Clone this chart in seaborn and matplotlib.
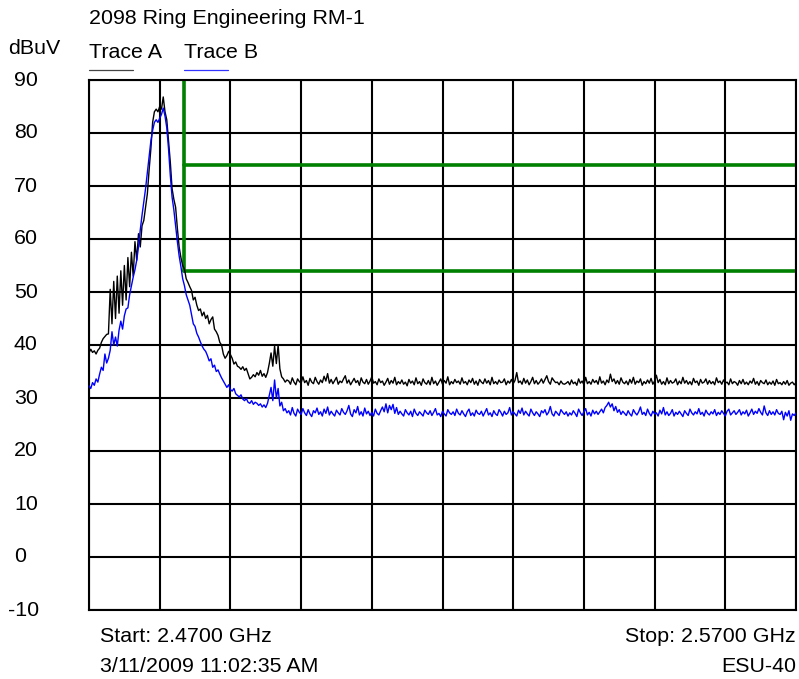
import matplotlib
matplotlib.use("Agg")
import matplotlib.pyplot as plt
import matplotlib.transforms as mtransforms
import numpy as np
import seaborn as sns

# spectrum analyzer sweep, 401 points from start to stop
start_ghz = 2.47
stop_ghz = 2.57

# Trace A (black), dBuV
trace_a_peak = [
    38.5, 39.2, 38.6, 38.9, 38.3, 39.0, 39.4, 40.5, 41.2, 41.6, 42.0, 42.1,
    50.5, 44.0, 52.0, 45.0, 53.0, 46.0, 54.0, 47.5, 55.0, 48.5, 56.5, 51.0,
    57.5, 53.0, 59.5, 56.0, 61.0, 58.5, 62.5, 63.5, 66.0, 68.5, 73.0, 77.0,
    82.0, 84.0, 84.5, 84.0, 85.0, 84.5, 86.8, 84.0, 82.5, 78.5, 74.5, 69.5,
    67.5, 66.0, 62.0, 58.5, 56.5, 55.0, 54.3, 52.5, 51.8, 51.0, 50.3, 48.5,
    49.0, 47.5, 46.5, 46.8, 45.5, 46.2, 45.0, 45.6, 44.0, 44.8, 45.3, 43.0,
    42.5, 41.8, 40.5, 40.0, 38.3, 37.5, 38.0, 38.8, 38.2, 37.5, 36.4, 36.8,
    36.0, 35.8, 35.4, 35.9, 35.2, 35.6, 34.6, 33.6, 33.9, 34.4, 34.0, 34.8,
    34.3, 35.2, 34.1, 34.6, 33.9, 34.8, 36.5, 38.5, 36.0, 39.8, 36.5, 40.0,
    35.5, 34.0, 33.6, 33.0, 33.4,
]
trace_a_floor = [
    33.2, 32.6, 33.8, 33.0, 32.5, 33.6, 33.1, 32.8, 34.0, 32.9, 33.3, 32.4, 33.7, 33.0, 32.7, 33.9,
    33.1, 32.6, 33.4, 32.9, 34.1, 33.2, 34.6, 32.8, 33.5, 32.7, 33.3, 33.9, 32.6, 33.2, 32.9, 33.6,
    34.2, 32.8, 33.4, 32.5, 33.1, 33.7, 32.9, 33.3, 32.4, 33.8, 33.0, 32.7, 33.5, 32.6, 33.2, 34.0,
    32.8, 33.1, 32.5, 33.6, 32.9, 33.2, 32.4, 33.0, 33.7, 32.6, 33.3, 32.8, 33.9, 32.5, 33.1, 32.7,
    33.4, 32.6, 33.0, 32.3, 33.5, 32.8, 33.2, 32.5, 33.8, 32.7, 33.1, 32.4, 33.6, 32.9, 32.6, 33.3,
    32.5, 33.9, 32.7, 33.2, 32.4, 33.0, 33.6, 32.6, 33.3, 32.8, 34.0, 32.5, 33.1, 32.7, 33.5, 32.9,
    33.2, 32.6, 33.8, 32.8, 33.1, 32.5, 33.4, 32.9, 33.7, 32.6, 33.2, 32.4, 33.5, 33.0, 32.7, 33.6,
    32.8, 33.3, 32.5, 33.9, 32.7, 33.1, 32.6, 33.4, 32.9, 33.0, 33.6, 32.5, 33.2, 32.8, 33.5, 32.7,
    33.3, 34.8, 32.9, 33.2, 32.6, 33.7, 32.8, 33.4, 32.5, 33.1, 33.9, 32.7, 33.3, 32.6, 33.0, 33.6,
    32.8, 33.5, 34.2, 33.1, 32.6, 33.8, 33.3, 32.9, 33.0, 32.5, 33.2, 32.7, 32.6, 32.8, 33.1, 32.5,
    33.4, 32.7, 33.0, 32.4, 33.6, 32.8, 33.2, 32.5, 33.9, 32.7, 33.1, 32.6, 33.5, 32.9, 33.3, 32.6,
    34.0, 32.8, 33.2, 32.5, 33.4, 32.9, 34.5, 33.1, 33.6, 32.7, 33.3, 32.6, 33.8, 33.0, 32.7, 33.2,
    32.5, 33.5, 32.8, 33.9, 32.6, 33.2, 32.9, 33.6, 32.4, 33.1, 32.7, 33.4, 32.8, 33.7, 32.6, 33.2,
    34.3, 32.9, 33.5, 32.6, 33.1, 32.5, 33.8, 32.7, 33.3, 32.8, 33.0, 33.6, 32.5, 33.2, 32.7, 33.9,
    32.8, 33.3, 32.6, 33.1, 32.5, 33.7, 32.9, 33.2, 32.4, 33.5, 32.8, 33.0, 33.6, 32.6, 33.3, 32.7,
    33.1, 32.5, 33.8, 32.9, 33.2, 32.6, 33.4, 32.8, 33.0, 32.5, 33.6, 32.7, 33.1, 32.9, 32.4, 33.3,
    32.7, 33.5, 32.6, 33.0, 32.5, 33.2, 32.8, 33.7, 32.6, 33.1, 32.4, 33.3, 32.9, 32.7, 33.4, 32.5,
    33.0, 32.6, 33.2, 32.4, 33.5, 32.7, 32.9, 32.5, 33.1, 32.6, 33.3, 32.4, 32.8, 33.0, 32.5, 32.9,
]

# Trace B (blue), dBuV
trace_b_peak = [
    32.3, 31.8, 32.9, 32.4, 33.6, 33.0, 34.5, 35.8, 35.2, 38.3, 36.6, 37.5,
    39.0, 42.5, 40.0, 41.5, 39.8, 42.8, 44.5, 43.0, 45.5, 46.8, 47.0, 49.5,
    51.2, 52.8, 54.2, 56.0, 58.5, 61.7, 64.5, 67.0, 69.5, 72.5, 75.5, 78.5,
    80.5, 82.0, 82.5, 82.0, 82.8, 83.5, 84.7, 83.2, 81.0, 77.0, 72.0, 67.9,
    65.5, 62.5, 59.5, 56.8, 54.8, 52.5, 51.2, 49.5, 48.5, 47.5, 45.8, 44.0,
    43.5, 42.2, 41.5, 40.6, 39.8, 39.2, 38.8, 38.0, 37.0, 37.4, 35.8, 36.2,
    35.0, 35.3, 34.5, 33.8, 33.2, 32.6, 32.0, 32.5, 31.6, 31.3, 31.8, 30.8,
    30.5, 30.2, 30.6, 29.8, 29.5, 29.9, 29.2, 29.0, 29.5, 28.8, 29.2, 29.0,
    28.6, 28.9, 28.3, 28.7, 28.2, 29.0, 30.5, 32.0, 29.5, 33.4, 30.0, 31.8,
    28.5, 29.2, 27.6, 28.0, 27.2,
]
trace_b_floor = [
    27.6, 26.8, 28.2, 27.1, 26.6, 27.9, 27.3, 26.9, 28.0, 27.2, 26.7, 27.8, 27.0, 26.5, 27.6, 27.2,
    28.1, 26.9, 27.4, 26.6, 27.9, 27.1, 28.3, 26.8, 27.5, 27.0, 26.6, 27.7, 27.2, 26.8, 28.0, 27.3,
    26.9, 27.6, 28.6, 27.0, 26.5, 27.8, 27.2, 28.4, 26.8, 27.4, 26.6, 28.1, 27.0, 27.5, 26.7, 27.3,
    26.6, 27.9, 27.1, 26.8, 27.6, 28.3, 27.4, 28.9, 27.2, 28.6, 27.8, 28.8, 27.1, 28.2, 26.9, 27.5,
    27.0, 26.6, 27.8, 27.2, 26.8, 27.5, 26.5, 27.9, 27.1, 26.7, 27.4, 27.0, 26.6, 27.7, 27.2, 26.9,
    27.6, 26.7, 27.3, 28.0, 26.8, 27.1, 26.5, 27.5, 27.0, 26.6, 27.8, 27.2, 26.9, 27.4, 26.7, 27.9,
    27.1, 26.8, 27.6, 27.0, 26.5, 27.4, 27.9, 26.7, 27.2, 26.6, 27.7, 27.1, 26.9, 27.5, 26.6, 27.3,
    28.0, 26.8, 27.2, 26.5, 27.6, 27.0, 26.7, 27.8, 27.3, 26.6, 27.5, 26.9, 27.2, 28.2, 26.8, 27.4,
    27.0, 26.6, 27.7, 27.1, 28.1, 26.8, 27.5, 27.0, 26.6, 27.9, 27.2, 26.7, 27.4, 27.0, 26.5, 27.6,
    27.2, 27.8, 26.8, 27.3, 28.4, 27.0, 26.6, 27.5, 27.1, 26.7, 27.8, 27.3, 26.9, 27.4, 26.6, 27.2,
    26.8, 27.6, 27.1, 26.5, 27.9, 27.2, 26.7, 27.4, 28.0, 26.8, 27.3, 26.6, 27.7, 27.0, 27.5, 26.9,
    27.4, 27.9, 27.2, 28.2, 28.6, 29.2, 28.3, 28.9, 27.6, 28.4, 27.3, 27.8, 26.9, 27.5, 27.1, 26.7,
    27.6, 27.0, 26.6, 27.8, 27.2, 26.8, 27.4, 28.3, 26.9, 27.3, 26.7, 27.9, 27.1, 26.6, 27.5, 27.0,
    27.2, 26.6, 27.7, 27.0, 28.2, 26.8, 27.4, 26.7, 27.1, 27.8, 26.6, 27.3, 26.9, 27.5, 27.0, 26.5,
    27.6, 27.1, 26.7, 27.9, 27.2, 26.8, 27.4, 27.0, 28.0, 26.9, 27.3, 26.6, 27.7, 27.1, 26.8, 27.4,
    27.0, 27.8, 26.7, 27.3, 26.9, 27.6, 27.1, 26.6, 27.5, 27.9, 26.8, 27.2, 27.6, 26.9, 27.3, 27.8,
    26.8, 27.4, 27.0, 27.7, 26.6, 27.2, 27.9, 26.9, 27.5, 27.1, 28.0, 27.3, 26.8, 28.5, 27.2, 26.7,
    27.6, 26.9, 27.4, 26.8, 27.8, 27.1, 26.9, 27.5, 25.9, 27.3, 26.6, 27.6, 25.8, 27.0, 26.7, 27.2,
]

# limit mask (green)
limit_freq = 2.4834
limit_upper = 74
limit_lower = 54
y_ticks = [90, 80, 70, 60, 50, 40, 30, 20, 10, 0, -10]

trace_a = np.array(trace_a_peak + trace_a_floor)
trace_b = np.array(trace_b_peak + trace_b_floor)
freq_a = np.linspace(start_ghz, stop_ghz, len(trace_a))
freq_b = np.linspace(start_ghz, stop_ghz, len(trace_b))

sns.set_style("white")
plt.rcParams['font.family'] = ['Liberation Sans', 'DejaVu Sans']
plt.rcParams['text.color'] = 'black'

fig = plt.figure(figsize=(7.99, 6.79), dpi=100)
W, H = 799, 679
ax = fig.add_axes([89 / W, (H - 610) / H, 707 / W, 530 / H])

ax.set_xlim(start_ghz, stop_ghz)
ax.set_ylim(-10, 90)
ax.set_xticks(np.linspace(start_ghz, stop_ghz, 11))
ax.set_yticks(y_ticks)
ax.grid(True, color="black", linewidth=1.5)
ax.set_axisbelow(True)
ax.tick_params(length=0, labelleft=False, labelbottom=False)
for sp in ax.spines.values():
    sp.set_color("black")
    sp.set_linewidth(1.5)

# limit lines
ax.plot([limit_freq, limit_freq], [limit_lower, 90], color="#008000", linewidth=2.6, zorder=2)
ax.plot([limit_freq, stop_ghz], [limit_upper, limit_upper], color="#008000", linewidth=2.6, zorder=2)
ax.plot([limit_freq, stop_ghz], [limit_lower, limit_lower], color="#008000", linewidth=2.6, zorder=2)

sns.lineplot(x=freq_a, y=trace_a, ax=ax, color="black", linewidth=1.0, estimator=None, zorder=3)
sns.lineplot(x=freq_b, y=trace_b, ax=ax, color="#0000ff", linewidth=1.0, estimator=None, zorder=3)
ax.set_xlabel("")
ax.set_ylabel("")

fs = 15.4
# y labels, left aligned in the margin
trans = mtransforms.blended_transform_factory(fig.transFigure, ax.transData)
for v in y_ticks:
    xpos = 8 if v < 0 else 14
    ax.text(xpos / W, v, str(v), transform=trans, ha="left", va="center", fontsize=fs)

fig.text(8 / W, 1 - 48 / H, "dBuV", ha="left", va="center", fontsize=fs)
fig.text(89 / W, 1 - 19 / H, "2098 Ring Engineering RM-1", ha="left", va="center", fontsize=fs)
fig.text(89 / W, 1 - 52 / H, "Trace A", ha="left", va="center", fontsize=fs)
fig.text(184 / W, 1 - 52 / H, "Trace B", ha="left", va="center", fontsize=fs)
fig.add_artist(plt.Line2D([89 / W, 133 / W], [1 - 70 / H] * 2, color="#444444", linewidth=0.9))
fig.add_artist(plt.Line2D([184 / W, 228 / W], [1 - 70 / H] * 2, color="#3333ff", linewidth=0.9))

fig.text(100 / W, 1 - 637 / H, "Start: 2.4700 GHz", ha="left", va="center", fontsize=fs)
fig.text(796 / W, 1 - 637 / H, "Stop: 2.5700 GHz", ha="right", va="center", fontsize=fs)
fig.text(100 / W, 1 - 667 / H, "3/11/2009 11:02:35 AM", ha="left", va="center", fontsize=fs)
fig.text(796 / W, 1 - 667 / H, "ESU-40", ha="right", va="center", fontsize=fs)

fig.savefig("out.png", dpi=100)
